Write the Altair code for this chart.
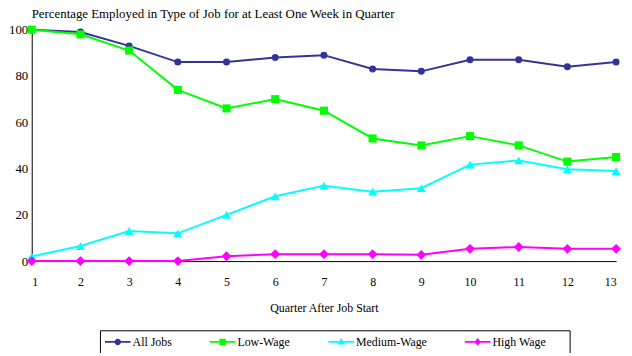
import altair as alt
import pandas as pd

quarters = list(range(1, 14))
series_names = ["All Jobs", "Low-Wage", "Medium-Wage", "High Wage"]
all_jobs = [100, 99, 93, 86, 86, 88, 89, 83, 82, 87, 87, 84, 86]
low_wage = [100, 98, 91, 74, 66, 70, 65, 53, 50, 54, 50, 43, 45]
medium_wage = [2, 6.5, 13, 12, 20, 28, 32.6, 30, 31.5, 41.7, 43.5, 39.7, 38.9]
high_wage = [0, 0, 0, 0, 2.1, 3, 3, 3, 2.7, 5.3, 6.1, 5.3, 5.3]
y_ticks = [0, 20, 40, 60, 80, 100]

colors = ["#333399", "#00FF00", "#00FFFF", "#FF00FF"]
shapes = ["circle", "square", "triangle-up", "diamond"]
sizes = [50, 100, 80, 81]
LINE = "M-1,-0.14H3V0.14H-1Z "
legend_paths = [
    LINE + "M1.5,0A0.5,0.5 0 1,1 0.5,0A0.5,0.5 0 1,1 1.5,0Z",
    LINE + "M0.5,-0.5H1.5V0.5H0.5Z",
    LINE + "M1,-0.6L1.55,0.4L0.45,0.4Z",
    LINE + "M1,-0.6L1.5,0L1,0.6L0.5,0Z",
]

rows = []
for i, (name, vals) in enumerate(zip(series_names, [all_jobs, low_wage, medium_wage, high_wage])):
    for q, v in zip(quarters, vals):
        rows.append({"quarter": q, "pct": v, "series": name, "k": i})
df = pd.DataFrame(rows)

FONT = "Times New Roman, Liberation Serif, serif"

x = alt.X(
    "quarter:Q",
    scale=alt.Scale(domain=[1, 13], nice=False, zero=False),
    axis=alt.Axis(values=quarters, format="d", title="Quarter After Job Start",
                  grid=False, ticks=False, labelPadding=16, titlePadding=15,
                  labelFontSize=12, titleFontSize=12, titleFontWeight="normal",
                  labelFont=FONT, titleFont=FONT),
)
y = alt.Y(
    "pct:Q",
    scale=alt.Scale(domain=[0, 100], nice=False),
    axis=alt.Axis(values=y_ticks, title=None, grid=False, ticks=False,
                  labelPadding=4, labelFontSize=13, labelFont=FONT),
)

def color_enc(legend=None):
    return alt.Color("series:N", scale=alt.Scale(domain=series_names, range=colors),
                     legend=legend)

base = alt.Chart(df)

lines = base.mark_line(strokeWidth=2).encode(x=x, y=y, color=color_enc(), detail="series:N")

points = base.mark_point(filled=True, opacity=1).encode(
    x=x, y=y, color=color_enc(),
    shape=alt.Shape("series:N", scale=alt.Scale(domain=series_names, range=shapes), legend=None),
    size=alt.Size("series:N", scale=alt.Scale(domain=series_names, range=sizes), legend=None),
    order=alt.Order("k:Q"),
)

BLANK = "\u2800"
label_expr = f"datum.label == 'High Wage' ? 'High Wage{BLANK * 2}' : datum.label"

leg = alt.Legend(
    title=None, orient="none", legendX=69, legendY=304, direction="horizontal",
    columns=4, symbolSize=169, labelOffset=15, columnPadding=38, padding=5,
    strokeColor="black", fillColor="white", labelFontSize=12, labelFont=FONT,
    labelColor="black", symbolOpacity=1, symbolStrokeWidth=0, labelExpr=label_expr,
)

legend_layer = base.transform_filter("false").mark_point(filled=True, opacity=1).encode(
    x=x, y=y,
    color=color_enc(leg),
    shape=alt.Shape("series:N", scale=alt.Scale(domain=series_names, range=legend_paths), legend=leg),
)

chart = (
    alt.layer(lines, points, legend_layer)
    .resolve_scale(color="independent", shape="independent", size="independent")
    .properties(
        width=591, height=234,
        title=alt.Title("Percentage Employed in Type of Job for at Least One Week in Quarter",
                        anchor="start", fontSize=13, fontWeight="normal", font=FONT,
                        color="black", offset=3, frame="group"),
        autosize=alt.AutoSizeParams(type="none"),
        padding={"left": 24, "top": 20, "right": 8, "bottom": 91},
    )
    .configure(font=FONT)
    .configure_view(stroke=None)
    .configure_axis(domainColor="black", domainWidth=1, labelColor="black", titleColor="black")
)

chart.save("out.html", embed_options={"renderer": "svg", "actions": False})
